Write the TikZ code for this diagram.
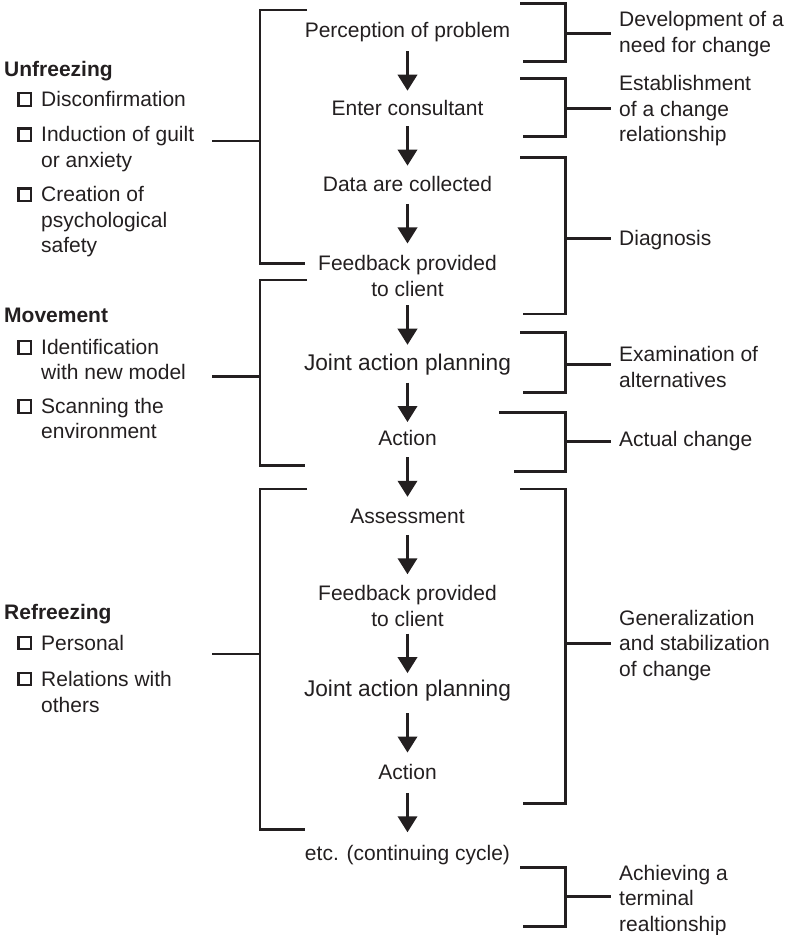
\documentclass[tikz,border=0pt]{standalone}
\usepackage{fontspec}
\setmainfont{Liberation Sans}
\usetikzlibrary{arrows.meta,calc}
\definecolor{ink}{HTML}{231F20}
\begin{document}
\begin{tikzpicture}[x=1pt,y=-1pt,
  every node/.style={inner sep=0pt, text=ink},
  txt/.style={font=\fontsize{21}{25.5}\selectfont},
  big/.style={font=\fontsize{22.7}{27}\selectfont},
  head/.style={font=\fontsize{21}{25.5}\selectfont\bfseries, anchor=base west},
  item/.style={txt, anchor=base west, align=left},
  stage/.style={txt, anchor=base, align=center},
  note/.style={txt, anchor=base west, align=left},
  chk/.style={draw=ink, line width=2.2pt, minimum size=12.6pt},
  brk/.style={draw=ink, line width=2.5pt},
  flow/.style={draw=ink, line width=2.2pt, -{Triangle[width=19.5pt,length=16pt]}},
]
\useasboundingbox (0,0) rectangle (788,935);

% ---- central sequence of stages (multi-line nodes sit on their last baseline) ----
\node[stage] (p1) at (407.5,37.7) {Perception of problem};
\node[stage] (p2) at (407.5,115) {Enter consultant};
\node[stage] (p3) at (407.5,191.7) {Data are collected};
\node[stage] (p4) at (407.5,296.2) {Feedback provided\\to client};
\node[stage,big] (p5) at (407.5,370) {Joint action planning};
\node[stage] (p6) at (407.5,445) {Action};
\node[stage] (p7) at (407.5,523.3) {Assessment};
\node[stage] (p8) at (407.5,626.2) {Feedback provided\\to client};
\node[stage,big] (p9) at (407.5,696.7) {Joint action planning};
\node[stage] (p10) at (407.5,779.3) {Action};
\node[stage] (p11) at (407.5,860.7) {etc. (continuing cycle)};

\foreach \a/\b in {p1/p2,p2/p3,p3/p4,p4/p5,p5/p6,p6/p7,p7/p8,p8/p9,p9/p10,p10/p11}
  \draw[flow] ($(\a.south)!.5!(\b.north)+(0,-19.75)$) -- ++(0,39.5);

% ---- left: Lewin's phases ----
\node[head] (uf) at (4,76.7) {Unfreezing};
\node[chk] (uf1b) at (24.7,99.3) {};
\node[item] (uf1) at (41,106) {Disconfirmation};
\node[chk] (uf2b) at (24.7,134.7) {};
\node[item] (uf2) at (41,167.2) {Induction of guilt\\or anxiety};
\node[chk] (uf3b) at (24.7,194.7) {};
\node[item] (uf3) at (41,252.7) {Creation of\\psychological\\safety};

\node[head] (mv) at (4,322.7) {Movement};
\node[chk] (mv1b) at (24.7,347.5) {};
\node[item] (mv1) at (41,379.5) {Identification\\with new model};
\node[chk] (mv2b) at (24.7,406.5) {};
\node[item] (mv2) at (41,438.8) {Scanning the\\environment};

\node[head] (rf) at (4,619.3) {Refreezing};
\node[chk] (rf1b) at (24.7,643) {};
\node[item] (rf1) at (41,650.7) {Personal};
\node[chk] (rf2b) at (24.7,679) {};
\node[item] (rf2) at (41,712.2) {Relations with\\others};

% left brackets
\draw[brk] (307,10) -| (260,263.3) -- (305,263.3);
\coordinate (ufm) at (260,141);  \coordinate (ufe) at (212,141);
\draw[brk] (ufm) -- (ufe);

\draw[brk] (307,280) -| (260,465.7) -- (305,465.7);
\coordinate (mvm) at (260,376.7); \coordinate (mve) at (212,376.7);
\draw[brk] (mvm) -- (mve);

\draw[brk] (307,489) -| (260,829.3) -- (305,829.3);
\coordinate (rfm) at (260,654);  \coordinate (rfe) at (212,654);
\draw[brk] (rfm) -- (rfe);

% ---- right: consulting stages ----
\node[note] (n1) at (619,52.2) {Development of a\\need for change};
\node[note] (n2) at (619,141.7) {Establishment\\of a change\\relationship};
\node[note] (n3) at (619,245) {Diagnosis};
\node[note] (n4) at (619,387.2) {Examination of\\alternatives};
\node[note] (n5) at (619,446.7) {Actual change};
\node[note] (n6) at (619,676) {Generalization\\and stabilization\\of change};
\node[note] (n7) at (619,931) {Achieving a\\terminal\\realtionship};

% right brackets
\draw[brk] (520,3.3) -| (565.7,61.7) -- (522.7,61.7);
\coordinate (r1) at (565.7,33.3);
\draw[brk] (r1) -- ([xshift=-8pt]n1.west |- r1);

\draw[brk] (520,78.3) -| (565.7,136.7) -- (522.7,136.7);
\coordinate (r2) at (565.7,108.3);
\draw[brk] (r2) -- ([xshift=-8pt]n2.west |- r2);

\draw[brk] (520,157.3) -| (565.7,314) -- (522.7,314);
\coordinate (r3) at (565.7,238.3);
\draw[brk] (r3) -- ([xshift=-8pt]n3.west |- r3);

\draw[brk] (520,332.7) -| (565.7,392.3) -- (522.7,392.3);
\coordinate (r4) at (565.7,364.3);
\draw[brk] (r4) -- ([xshift=-8pt]n4.west |- r4);

\draw[brk] (499.3,412.3) -| (565.7,471.7) -- (514,471.7);
\coordinate (r5) at (565.7,441.7);
\draw[brk] (r5) -- ([xshift=-8pt]n5.west |- r5);

\draw[brk] (520,489) -| (565.7,803.3) -- (522.7,803.3);
\coordinate (r6) at (565.7,643.3);
\draw[brk] (r6) -- ([xshift=-8pt]n6.west |- r6);

\draw[brk] (520,867.3) -| (565.7,926.7) -- (522.7,926.7);
\coordinate (r7) at (565.7,896.7);
\draw[brk] (r7) -- ([xshift=-8pt]n7.west |- r7);
\end{tikzpicture}
\end{document}
